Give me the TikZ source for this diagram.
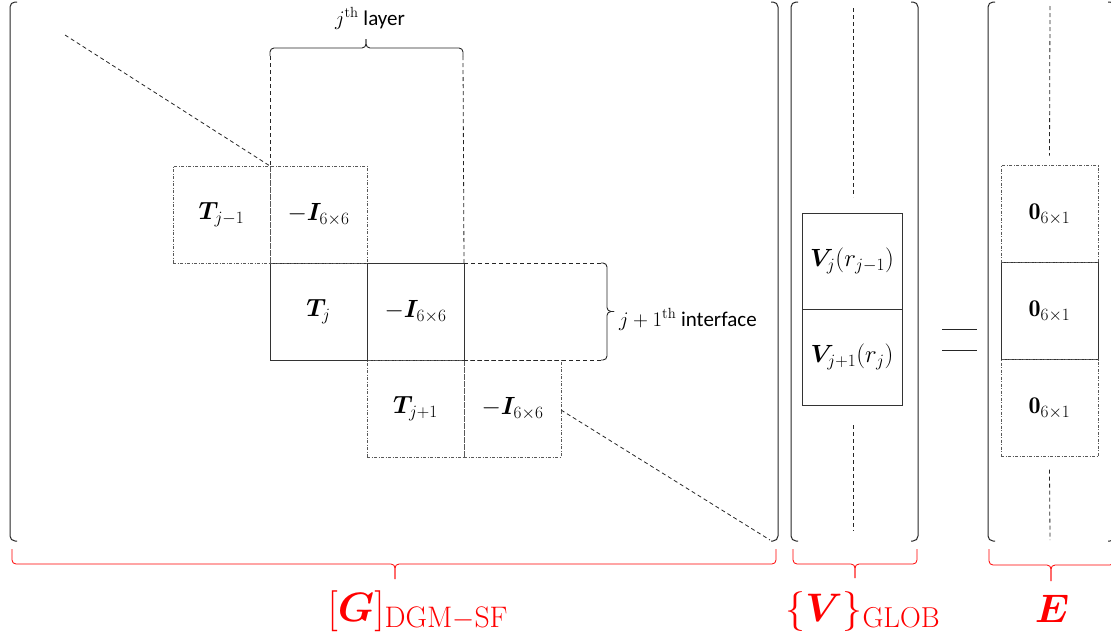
\documentclass[tikz,border=0pt]{standalone}
\usepackage{amsmath}
\usepackage{bm}
\usepackage{fontspec}
\newfontfamily\calib{Carlito}
\DeclareMathSizes{24}{24}{18}{14}
\usetikzlibrary{positioning}

\begin{document}
\begin{tikzpicture}[
  x=1pt, y=-1pt,
  every node/.style={inner sep=0pt, outer sep=0pt},
  cellsolid/.style={
    rectangle, draw=black!80, line width=0.8pt,
    minimum width=97pt, minimum height=97pt,
    font=\fontsize{24}{28}\selectfont
  },
  celldash/.style={
    cellsolid, draw=black!65,
    dash pattern=on 3pt off 1.5pt on 1pt off 1.5pt
  },
  guide/.style={black!85, line width=0.8pt, dash pattern=on 4pt off 3pt},
  mbrk/.style={black!85, line width=1pt, rounded corners=5pt},
  brc/.style={black!85, line width=0.9pt, rounded corners=4pt},
  redbrc/.style={red, line width=0.8pt, rounded corners=4pt},
  lbl/.style={font=\fontsize{21}{24}\selectfont\calib},
  redlbl/.style={text=red, font=\fontsize{24}{28}\selectfont}
]
\useasboundingbox (0,0) rectangle (1111,640);

%% ─── Matrix brackets ────────────────────────────────────────────────────────
\draw[mbrk] (17,2)   -- (10,2)   -- (10,541)   -- (17,541);
\draw[mbrk] (771,2)  -- (778,2)  -- (778,541)  -- (771,541);
\draw[mbrk] (798,2)  -- (791,2)  -- (791,541)  -- (798,541);
\draw[mbrk] (911,2)  -- (918,2)  -- (918,541)  -- (911,541);
\draw[mbrk] (995,2)  -- (988,2)  -- (988,541)  -- (995,541);
\draw[mbrk] (1108,2) -- (1115,2) -- (1115,541) -- (1108,541);

%% ─── Blocks of [G] ──────────────────────────────────────────────────────────
\node[cellsolid] (Tj) at (318.5,311.5) {$\bm{T}_j$};
\node[cellsolid, right=0pt of Tj] (Ij) {$-\bm{I}_{6\times 6}$};
\node[celldash, above=0pt of Tj] (Im) {$-\bm{I}_{6\times 6}$};
\node[celldash, left=0pt of Im]  (Tm) {$\bm{T}_{j-1}$};
\node[celldash, below=0pt of Ij] (Tp) {$\bm{T}_{j+1}$};
\node[celldash, right=0pt of Tp] (Ip) {$-\bm{I}_{6\times 6}$};

\coordinate (diagA) at (65,35);
\coordinate (diagB) at (770,540);
\coordinate (layA)  at (270,56);
\coordinate (layB)  at (463,56);
\coordinate (intA)  at (601,263);
\coordinate (intB)  at (601,360);

\draw[guide] (diagA) -- (Im.north west);
\draw[guide] ([yshift=-50pt]Ip.north east) -- (diagB);
\draw[guide] (layA) -- (Im.north west);
\draw[guide] (layB) -- (Ij.north east);
\draw[guide] (Ij.north east) -- (intA);
\draw[guide] (Ij.south east) -- (intB);

%% ─── Layer / interface braces ───────────────────────────────────────────────
\draw[brc] (layA) -- (270,48) -- (366,48) -- (366,39);
\draw[brc] (layB) -- (463,48) -- (366,48) -- (366,39);
\node[lbl, anchor=base] (layer) at (370,25) {$j^{\mathrm{th}}$ layer};

\draw[brc] (intA) -- (607,263) -- (607,311.5) -- (614,311.5);
\draw[brc] (intB) -- (607,360) -- (607,311.5) -- (614,311.5);
\node[lbl, anchor=base west] (iface) at (619,326) {$j+1^{\mathrm{th}}$ interface};

%% ─── {V} column ─────────────────────────────────────────────────────────────
\node[cellsolid, minimum width=100pt, minimum height=96pt] (Vj) at (852,261)
      {$\bm{V}_j(r_{j-1})$};
\node[cellsolid, minimum width=100pt, minimum height=96pt, below=0pt of Vj] (Vp)
      {$\bm{V}_{j+1}(r_j)$};
\coordinate (vtop) at (853,8);
\coordinate (vbot) at (853,531);
\draw[guide] (vtop) -- (853,197);
\draw[guide] (853,425) -- (vbot);

%% ─── Equals ─────────────────────────────────────────────────────────────────
\draw[black!85, line width=1pt] (942,329) -- (977,329);
\draw[black!85, line width=1pt] (942,350) -- (977,350);

%% ─── E column ───────────────────────────────────────────────────────────────
\node[cellsolid] (E0) at (1049.5,311) {$\mathbf{0}_{6\times 1}$};
\node[celldash, above=0pt of E0] (Em) {$\mathbf{0}_{6\times 1}$};
\node[celldash, below=0pt of E0] (Ep) {$\mathbf{0}_{6\times 1}$};
\coordinate (etop) at (1050,6);
\coordinate (ebot) at (1050,540);
\draw[guide] (etop) -- ([yshift=10pt]Em.north);
\draw[guide] ([yshift=-13pt]Ep.south) -- (ebot);

%% ─── Red braces and names ───────────────────────────────────────────────────
\draw[redbrc] (12,549)  -- (12,564)  -- (395,564)  -- (395,579);
\draw[redbrc] (776,549) -- (776,564) -- (395,564)  -- (395,579);
\draw[redbrc] (793,549) -- (793,564) -- (855,564)  -- (855,578);
\draw[redbrc] (917,549) -- (917,564) -- (855,564)  -- (855,578);
\draw[redbrc] (989,549) -- (989,565) -- (1051,565) -- (1051,581);
\draw[redbrc] (1114,549) -- (1114,565) -- (1051,565) -- (1051,581);

\node[redlbl, anchor=base] (Gname) at (418,621)
      {\scalebox{1.65}{$[\bm{G}]_{\mathrm{DGM-SF}}$}};
\node[redlbl, anchor=base] (Vname) at (863,621)
      {\scalebox{1.6}{$\{\bm{V}\}_{\mathrm{GLOB}}$}};
\node[redlbl, anchor=base] (Ename) at (1052,622)
      {\scalebox{1.6}{$\bm{E}$}};

\end{tikzpicture}
\end{document}
